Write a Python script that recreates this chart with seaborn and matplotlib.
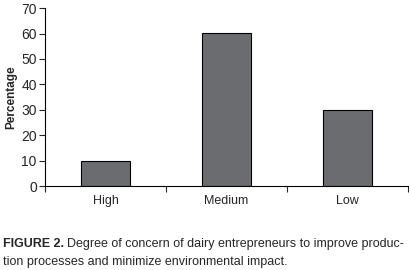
import matplotlib
matplotlib.use("Agg")
import matplotlib.pyplot as plt
import seaborn as sns
import pandas as pd

# concern levels and share of dairy entrepreneurs (%)
levels = ["High", "Medium", "Low"]
percent = [10, 60.3, 30]
yticks = [0, 10, 20, 30, 40, 50, 60, 70]

sns.set_style("white")
plt.rcParams['font.family'] = ['Liberation Sans', 'DejaVu Sans']

df = pd.DataFrame({"level": levels, "pct": percent})

fig = plt.figure(figsize=(4.1, 2.7), dpi=100)
ax = fig.add_axes([0.11, 0.311, 0.885, 0.659])

sns.barplot(data=df, x="level", y="pct", color="#6b6c70", edgecolor="black",
            linewidth=0.8, width=0.4, saturation=1, ax=ax)

ax.set_xlim(-0.5, 2.5)
ax.set_ylim(0, 70)
ax.set_yticks(yticks)
ax.set_xlabel("")
ax.set_ylabel("Percentage", fontsize=8.5, fontweight="bold", labelpad=3)

sns.despine(ax=ax)
for s in ["left", "bottom"]:
    ax.spines[s].set_linewidth(0.8)
    ax.spines[s].set_color("black")

ax.tick_params(axis="y", left=True, length=4, width=0.8, labelsize=10, pad=2)
ax.tick_params(axis="x", which="major", bottom=False, labelsize=9, pad=3)
ax.set_xticks([-0.5, 0.5, 1.5, 2.5], minor=True)
ax.tick_params(axis="x", which="minor", bottom=True, length=4, width=0.8)

# caption with bold label
t1 = fig.text(0.008, 0.085, "FIGURE 2.", fontsize=9, fontweight="bold")
fig.canvas.draw()
bb = t1.get_window_extent()
x2 = bb.x1 / fig.bbox.width + 0.006
fig.text(x2, 0.085, "Degree of concern of dairy entrepreneurs to improve produc-",
         fontsize=9)
fig.text(0.008, 0.02, "tion processes and minimize environmental impact.", fontsize=9)

fig.savefig("out.png", dpi=100)
